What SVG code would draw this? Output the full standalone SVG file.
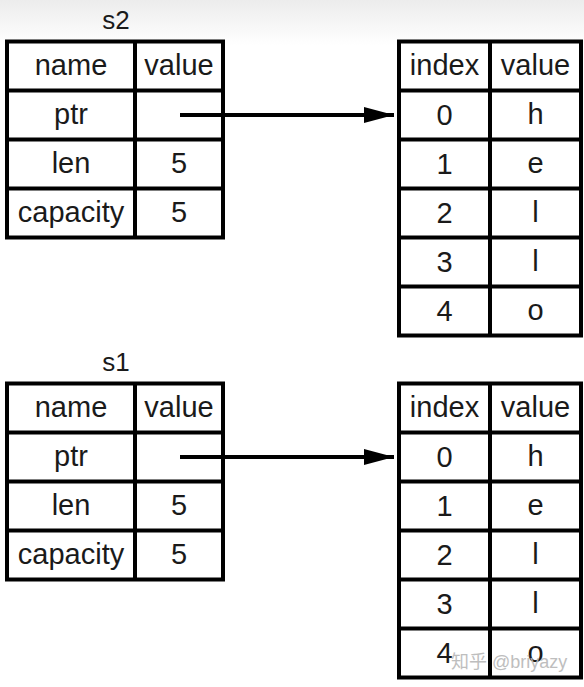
<svg xmlns="http://www.w3.org/2000/svg" width="584" height="687" viewBox="0 0 584 687">
<defs>
<linearGradient id="bg" x1="0" y1="0" x2="0" y2="1">
<stop offset="0" stop-color="#ececec"/>
<stop offset="1" stop-color="#ffffff"/>
</linearGradient>
<marker id="ah" viewBox="0 0 30 16" refX="30" refY="8" markerWidth="30" markerHeight="16" markerUnits="userSpaceOnUse" orient="auto">
<path d="M0,0 L30,8 L0,16 Z" fill="#000"/>
</marker>
<style>
.box{fill:#fff;stroke:#000;stroke-width:4}
.ln{stroke:#000;stroke-width:4;fill:none}
.t{font-family:"Liberation Sans","DejaVu Sans",sans-serif;font-size:29px;fill:#1a1a1a;text-anchor:middle}
.lbl{font-family:"Liberation Sans","DejaVu Sans",sans-serif;font-size:26px;fill:#1a1a1a;text-anchor:middle}
.wm{font-family:"Liberation Sans","Noto Sans CJK SC",sans-serif;font-size:18px;fill:#b8b8b8;opacity:0.9}
.arr{stroke:#000;stroke-width:4;fill:none;marker-end:url(#ah)}
</style>
</defs>
<rect x="0" y="0" width="584" height="687" fill="#fff"/>
<rect x="0" y="0" width="584" height="45" fill="url(#bg)"/>

<g id="s2">
<text class="lbl" x="116" y="29">s2</text>
<rect class="box" x="7" y="41.5" width="216" height="196"/>
<path class="ln" d="M135,41.5V237.5M7,90.5H223M7,139.5H223M7,188.5H223"/>
<text class="t" x="71" y="75">name</text><text class="t" x="179" y="75">value</text>
<text class="t" x="71" y="124">ptr</text>
<text class="t" x="71" y="173">len</text><text class="t" x="179" y="173">5</text>
<text class="t" x="71" y="222">capacity</text><text class="t" x="179" y="222">5</text>
</g>

<g id="heap2">
<rect class="box" x="399" y="41.5" width="182" height="294"/>
<path class="ln" d="M490,41.5V335.5M399,90.5H581M399,139.5H581M399,188.5H581M399,237.5H581M399,286.5H581"/>
<text class="t" x="444.5" y="75">index</text><text class="t" x="535.5" y="75">value</text>
<text class="t" x="444.5" y="125">0</text><text class="t" x="535.5" y="124">h</text>
<text class="t" x="444.5" y="174">1</text><text class="t" x="535.5" y="173">e</text>
<text class="t" x="444.5" y="223">2</text><text class="t" x="535.5" y="222">l</text>
<text class="t" x="444.5" y="272">3</text><text class="t" x="535.5" y="271">l</text>
<text class="t" x="444.5" y="321">4</text><text class="t" x="535.5" y="320">o</text>
</g>

<g id="s1">
<text class="lbl" x="116" y="371">s1</text>
<rect class="box" x="7" y="383.5" width="216" height="196"/>
<path class="ln" d="M135,383.5V579.5M7,432.5H223M7,481.5H223M7,530.5H223"/>
<text class="t" x="71" y="417">name</text><text class="t" x="179" y="417">value</text>
<text class="t" x="71" y="466">ptr</text>
<text class="t" x="71" y="515">len</text><text class="t" x="179" y="515">5</text>
<text class="t" x="71" y="564">capacity</text><text class="t" x="179" y="564">5</text>
</g>

<g id="heap1">
<rect class="box" x="399" y="383.5" width="182" height="294"/>
<path class="ln" d="M490,383.5V677.5M399,432.5H581M399,481.5H581M399,530.5H581M399,579.5H581M399,628.5H581"/>
<text class="t" x="444.5" y="417">index</text><text class="t" x="535.5" y="417">value</text>
<text class="t" x="444.5" y="467">0</text><text class="t" x="535.5" y="466">h</text>
<text class="t" x="444.5" y="516">1</text><text class="t" x="535.5" y="515">e</text>
<text class="t" x="444.5" y="565">2</text><text class="t" x="535.5" y="564">l</text>
<text class="t" x="444.5" y="614">3</text><text class="t" x="535.5" y="613">l</text>
<text class="t" x="444.5" y="663">4</text><text class="t" x="535.5" y="662">o</text>
</g>

<g id="connectors">
<line class="arr" x1="180" y1="115" x2="394" y2="115"/>
<line class="arr" x1="180" y1="457" x2="394" y2="457"/>
</g>

<text class="wm" x="451" y="668">知乎 @briyazy</text>
</svg>
